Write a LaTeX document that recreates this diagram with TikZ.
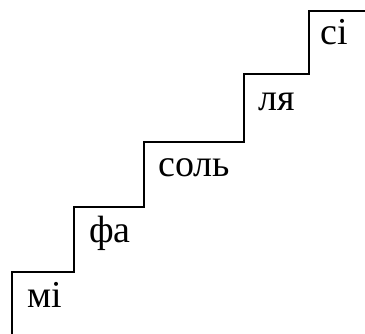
\documentclass[tikz,border=0pt]{standalone}
\usepackage{fontspec}
\setmainfont{Liberation Serif}

\begin{document}
\begin{tikzpicture}[x=1pt,y=-1pt,line width=2.5pt,
    note/.style={anchor=base west,inner sep=0pt,font=\fontsize{38}{40}\selectfont}]
  \useasboundingbox (0,0) rectangle (365,334);

  % corners of the steps
  \coordinate (start) at (12,340);
  \coordinate (s1) at (12,272);
  \coordinate (s2) at (74,207);
  \coordinate (s3) at (144,142);
  \coordinate (s4) at (244,74);
  \coordinate (s5) at (309,11);
  \coordinate (end) at (370,11);

  \draw (start) -- (s1) -| (s2) -| (s3) -| (s4) -| (s5) -- (end);

  \node[note] (mi)  at ([shift={(14,36)}]s1) {мі};
  \node[note] (fa)  at ([shift={(14,36)}]s2) {фа};
  \node[note] (sol) at ([shift={(13,35)}]s3) {соль};
  \node[note] (lya) at ([shift={(13,37)}]s4) {ля};
  \node[note] (si)  at ([shift={(10,34)}]s5) {сі};
\end{tikzpicture}
\end{document}
